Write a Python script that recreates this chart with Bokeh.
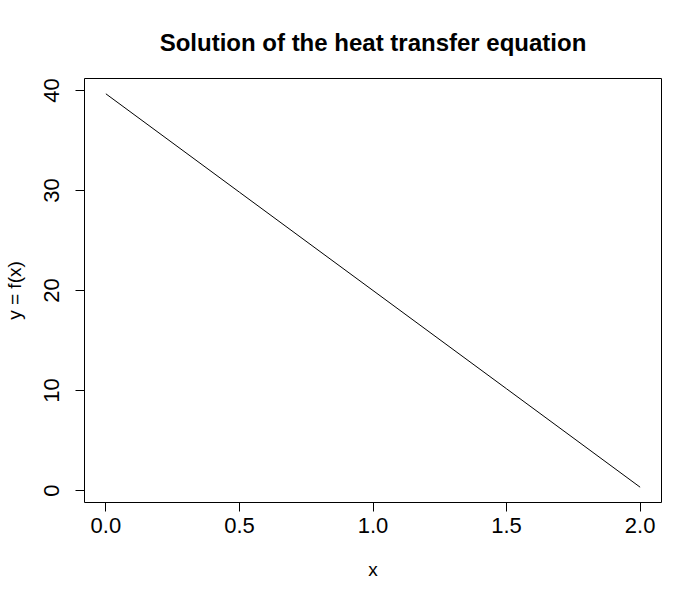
from bokeh.plotting import figure
from bokeh.models import Range1d, FixedTicker, PrintfTickFormatter
from bokeh.embed import file_html
from bokeh.resources import INLINE

x_vals = [0.0, 0.5, 1.0, 1.5, 2.0]
y_vals = [39.67, 29.83, 20.0, 10.17, 0.33]
x_ticks = [0.0, 0.5, 1.0, 1.5, 2.0]
y_ticks = [0, 10, 20, 30, 40]

FONT = "Liberation Sans"

p = figure(width=700, height=600, output_backend="svg", toolbar_location=None,
           x_range=Range1d(-0.08, 2.08), y_range=Range1d(-1.2, 41.2),
           min_border_left=80, min_border_right=39, min_border_top=78, min_border_bottom=98,
           title="Solution of the heat transfer equation")
p.background_fill_color = "white"
p.border_fill_color = "white"
p.grid.visible = False
p.outline_line_color = "black"
p.outline_line_width = 1

p.title.text_font = FONT
p.title.text_font_size = "24px"
p.title.text_font_style = "bold"
p.title.text_color = "black"
p.title.align = "center"
p.title.standoff = 45

p.line(x_vals, y_vals, line_color="black", line_width=1)

for ax in (p.xaxis[0], p.yaxis[0]):
    ax.axis_line_color = "black"
    ax.major_tick_in = 0
    ax.major_tick_out = 9
    ax.minor_tick_line_color = None
    ax.major_label_text_font = FONT
    ax.major_label_text_font_size = "22px"
    ax.major_label_text_color = "black"
    ax.axis_label_text_font = FONT
    ax.axis_label_text_font_size = "19px"
    ax.axis_label_text_font_style = "normal"
    ax.axis_label_text_color = "black"

p.xaxis[0].ticker = FixedTicker(ticks=x_ticks)
p.xaxis[0].formatter = PrintfTickFormatter(format="%.1f")
p.xaxis[0].bounds = (0, 2)
p.xaxis[0].axis_label = "x"
p.xaxis[0].major_label_standoff = 6
p.xaxis[0].axis_label_standoff = 23

p.yaxis[0].ticker = FixedTicker(ticks=y_ticks)
p.yaxis[0].bounds = (0, 40)
p.yaxis[0].major_label_orientation = "vertical"
p.yaxis[0].axis_label = "y = f(x)"
p.yaxis[0].major_label_standoff = 17
p.yaxis[0].axis_label_standoff = 16

open("out.html", "w").write(file_html(p, INLINE))
